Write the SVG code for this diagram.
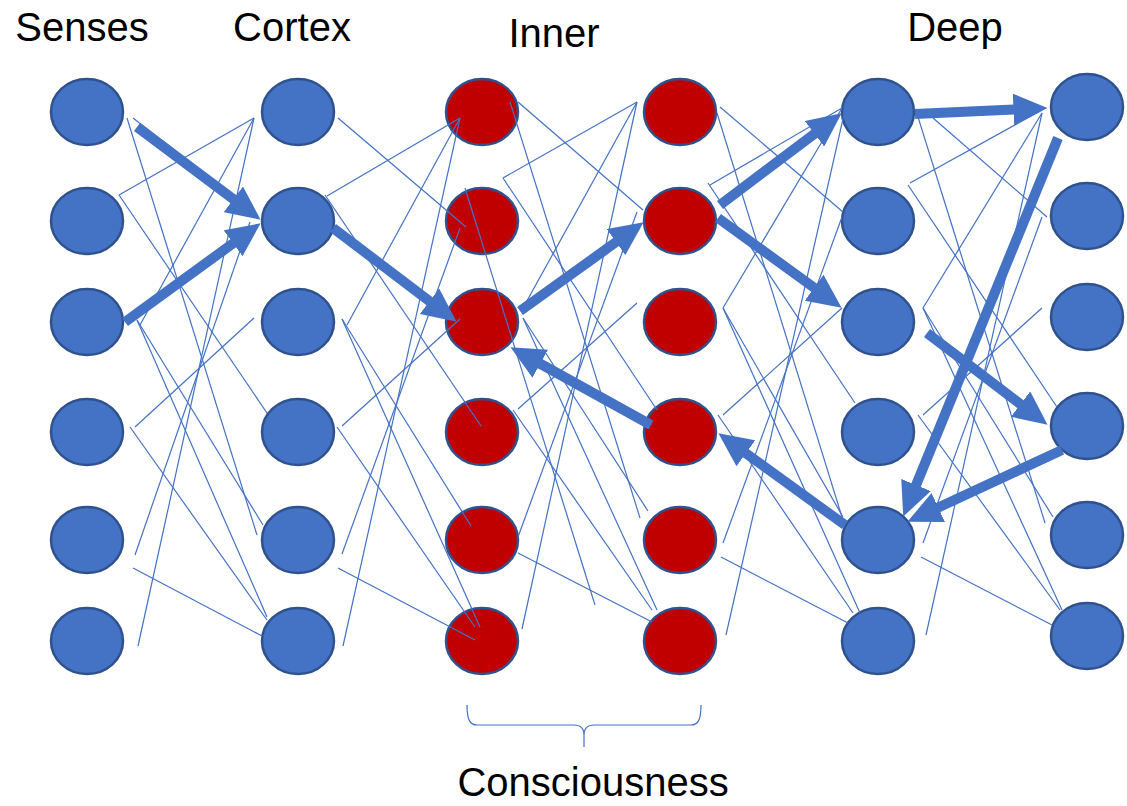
<svg xmlns="http://www.w3.org/2000/svg" width="1127" height="806" viewBox="0 0 1127 806">
  <style>
    .blue { fill: #4472C4; stroke: #2F528F; stroke-width: 2.5; }
    .red { fill: #C00000; stroke: #2F528F; stroke-width: 2.5; }
    .thin { stroke: #4472C4; stroke-width: 1.2; fill: none; }
    .thick { stroke: #4472C4; stroke-width: 10; fill: none; marker-end: url(#head); }
    .label { font-family: "Liberation Sans", Arial, sans-serif; font-size: 40px; fill: #000; text-anchor: middle; }
  </style>
  <defs>
    <marker id="head" viewBox="0 0 3.4 3.2" refX="0.05" refY="1.6" markerWidth="3.4" markerHeight="3.2" orient="auto" markerUnits="strokeWidth">
      <path d="M0,0 L3.4,1.6 L0,3.2 z" fill="#4472C4"/>
    </marker>
  </defs>
  <rect width="1127" height="806" fill="#fff"/>

  <!-- column titles -->
  <g id="titles">
    <text class="label" x="82" y="41">Senses</text>
    <text class="label" x="292" y="41">Cortex</text>
    <text class="label" x="554" y="47">Inner</text>
    <text class="label" x="955" y="41">Deep</text>
  </g>

  <!-- Senses layer -->
  <g id="senses">
    <ellipse id="s1" class="blue" cx="87" cy="112" rx="36" ry="33"/>
    <ellipse id="s2" class="blue" cx="87" cy="221" rx="36" ry="33"/>
    <ellipse id="s3" class="blue" cx="87" cy="322" rx="36" ry="33"/>
    <ellipse id="s4" class="blue" cx="87" cy="432" rx="36" ry="33"/>
    <ellipse id="s5" class="blue" cx="87" cy="540" rx="36" ry="33"/>
    <ellipse id="s6" class="blue" cx="87" cy="641" rx="36" ry="33"/>
  </g>
  <!-- Cortex layer -->
  <g id="cortex">
    <ellipse id="c1" class="blue" cx="298" cy="112" rx="36" ry="33"/>
    <ellipse id="c2" class="blue" cx="298" cy="221" rx="36" ry="33"/>
    <ellipse id="c3" class="blue" cx="298" cy="322" rx="36" ry="33"/>
    <ellipse id="c4" class="blue" cx="298" cy="432" rx="36" ry="33"/>
    <ellipse id="c5" class="blue" cx="298" cy="540" rx="36" ry="33"/>
    <ellipse id="c6" class="blue" cx="298" cy="641" rx="36" ry="33"/>
  </g>
  <!-- Inner layers -->
  <g id="inner-a">
    <ellipse id="i1" class="red" cx="482" cy="112" rx="36" ry="33"/>
    <ellipse id="i2" class="red" cx="482" cy="221" rx="36" ry="33"/>
    <ellipse id="i3" class="red" cx="482" cy="322" rx="36" ry="33"/>
    <ellipse id="i4" class="red" cx="482" cy="432" rx="36" ry="33"/>
    <ellipse id="i5" class="red" cx="482" cy="540" rx="36" ry="33"/>
    <ellipse id="i6" class="red" cx="482" cy="641" rx="36" ry="33"/>
  </g>
  <g id="inner-b">
    <ellipse id="j1" class="red" cx="680" cy="112" rx="36" ry="33"/>
    <ellipse id="j2" class="red" cx="680" cy="221" rx="36" ry="33"/>
    <ellipse id="j3" class="red" cx="680" cy="322" rx="36" ry="33"/>
    <ellipse id="j4" class="red" cx="680" cy="432" rx="36" ry="33"/>
    <ellipse id="j5" class="red" cx="680" cy="540" rx="36" ry="33"/>
    <ellipse id="j6" class="red" cx="680" cy="641" rx="36" ry="33"/>
  </g>
  <!-- Deep layers -->
  <g id="deep-a">
    <ellipse id="d1" class="blue" cx="878" cy="112" rx="36" ry="33"/>
    <ellipse id="d2" class="blue" cx="878" cy="221" rx="36" ry="33"/>
    <ellipse id="d3" class="blue" cx="878" cy="322" rx="36" ry="33"/>
    <ellipse id="d4" class="blue" cx="878" cy="432" rx="36" ry="33"/>
    <ellipse id="d5" class="blue" cx="878" cy="540" rx="36" ry="33"/>
    <ellipse id="d6" class="blue" cx="878" cy="641" rx="36" ry="33"/>
  </g>
  <g id="deep-b">
    <ellipse id="e1" class="blue" cx="1087" cy="107" rx="36" ry="33"/>
    <ellipse id="e2" class="blue" cx="1087" cy="216" rx="36" ry="33"/>
    <ellipse id="e3" class="blue" cx="1087" cy="317" rx="36" ry="33"/>
    <ellipse id="e4" class="blue" cx="1087" cy="426" rx="36" ry="33"/>
    <ellipse id="e5" class="blue" cx="1087" cy="535" rx="36" ry="33"/>
    <ellipse id="e6" class="blue" cx="1087" cy="636" rx="36" ry="33"/>
  </g>

  <!-- thin connections between layers -->
  <g id="connectors">
    <g class="thin">
      <!-- Senses to Cortex -->
      <line x1="133" y1="118" x2="255" y2="212"/>
      <line x1="127" y1="118" x2="257" y2="535"/>
      <line x1="119" y1="195" x2="254" y2="118"/>
      <line x1="119" y1="195" x2="267" y2="413"/>
      <line x1="140" y1="325" x2="254" y2="118"/>
      <line x1="137" y1="320" x2="263" y2="525"/>
      <line x1="137" y1="320" x2="267" y2="617"/>
      <line x1="135" y1="427" x2="254" y2="318"/>
      <line x1="130" y1="427" x2="267" y2="620"/>
      <line x1="135" y1="555" x2="250" y2="222"/>
      <line x1="133" y1="568" x2="262" y2="636"/>
      <line x1="138" y1="646" x2="254" y2="118"/>
      <!-- Cortex to Inner -->
      <line x1="338" y1="118" x2="466" y2="227"/>
      <line x1="327" y1="196" x2="460" y2="118"/>
      <line x1="325" y1="195" x2="481" y2="426"/>
      <line x1="347" y1="325" x2="460" y2="118"/>
      <line x1="342" y1="426" x2="460" y2="319"/>
      <line x1="337" y1="427" x2="475" y2="627"/>
      <line x1="342" y1="319" x2="480" y2="627"/>
      <line x1="342" y1="319" x2="471" y2="526"/>
      <line x1="342" y1="554" x2="460" y2="228"/>
      <line x1="343" y1="646" x2="460" y2="118"/>
      <line x1="338" y1="568" x2="475" y2="640"/>
      <!-- Inner to Inner -->
      <line x1="510" y1="102" x2="640" y2="518"/>
      <line x1="518" y1="102" x2="643" y2="210"/>
      <line x1="637" y1="102" x2="503" y2="178"/>
      <line x1="503" y1="178" x2="657" y2="410"/>
      <line x1="518" y1="409" x2="637" y2="303"/>
      <line x1="513" y1="410" x2="652" y2="610"/>
      <line x1="518" y1="537" x2="637" y2="212"/>
      <line x1="522" y1="629" x2="637" y2="102"/>
      <line x1="518" y1="553" x2="652" y2="622"/>
      <line x1="465" y1="188" x2="595" y2="605"/>
      <line x1="523" y1="318" x2="657" y2="610"/>
      <line x1="523" y1="318" x2="648" y2="511"/>
      <line x1="523" y1="308" x2="637" y2="102"/>
      <!-- Inner to Deep -->
      <line x1="720" y1="107" x2="843" y2="212"/>
      <line x1="717" y1="113" x2="842" y2="517"/>
      <line x1="710" y1="185" x2="842" y2="108"/>
      <line x1="708" y1="183" x2="855" y2="403"/>
      <line x1="723" y1="308" x2="842" y2="108"/>
      <line x1="723" y1="415" x2="842" y2="308"/>
      <line x1="718" y1="415" x2="853" y2="613"/>
      <line x1="723" y1="543" x2="842" y2="217"/>
      <line x1="726" y1="635" x2="845" y2="110"/>
      <line x1="721" y1="557" x2="848" y2="623"/>
      <line x1="723" y1="308" x2="843" y2="517"/>
      <line x1="723" y1="308" x2="860" y2="613"/>
      <!-- Deep to Deep -->
      <line x1="918" y1="117" x2="1045" y2="523"/>
      <line x1="933" y1="118" x2="1047" y2="217"/>
      <line x1="910" y1="183" x2="1042" y2="110"/>
      <line x1="908" y1="185" x2="1057" y2="407"/>
      <line x1="923" y1="308" x2="1042" y2="113"/>
      <line x1="923" y1="415" x2="1042" y2="308"/>
      <line x1="918" y1="415" x2="1060" y2="610"/>
      <line x1="923" y1="543" x2="1042" y2="217"/>
      <line x1="926" y1="635" x2="1042" y2="113"/>
      <line x1="921" y1="557" x2="1052" y2="625"/>
      <line x1="923" y1="308" x2="1053" y2="517"/>
      <line x1="923" y1="308" x2="1062" y2="610"/>
    </g>

    <!-- highlighted signal path -->
    <g id="signal-path">
      <line class="thick" x1="137" y1="127" x2="233.8" y2="199.6"/>
      <line class="thick" x1="125" y1="322" x2="233.5" y2="243"/>
      <line class="thick" x1="333" y1="228" x2="429.9" y2="301.5"/>
      <line class="thick" x1="520" y1="311" x2="616.4" y2="241.8"/>
      <line class="thick" x1="651" y1="425" x2="539.8" y2="363.5"/>
      <line class="thick" x1="720" y1="205" x2="814.9" y2="133.5"/>
      <line class="thick" x1="718" y1="218" x2="814.5" y2="288"/>
      <line class="thick" x1="915" y1="114" x2="1014" y2="109.5"/>
      <line class="thick" x1="1058" y1="138" x2="915.9" y2="485.5"/>
      <line class="thick" x1="927" y1="333" x2="1020.9" y2="404.4"/>
      <line class="thick" x1="1062" y1="450" x2="937.8" y2="507.7"/>
      <line class="thick" x1="845" y1="525" x2="745.5" y2="453"/>
    </g>
  </g>

  <!-- brace under the Inner layers -->
  <g id="consciousness">
    <path class="thin" d="M467,705 C467,720 470,725 477,725 L574,725 C580,725 584,728 584,735 L584,747 M584,735 C584,728 588,725 594,725 L691,725 C698,725 701,720 701,705"/>
    <text class="label" x="593" y="796">Consciousness</text>
  </g>
</svg>
